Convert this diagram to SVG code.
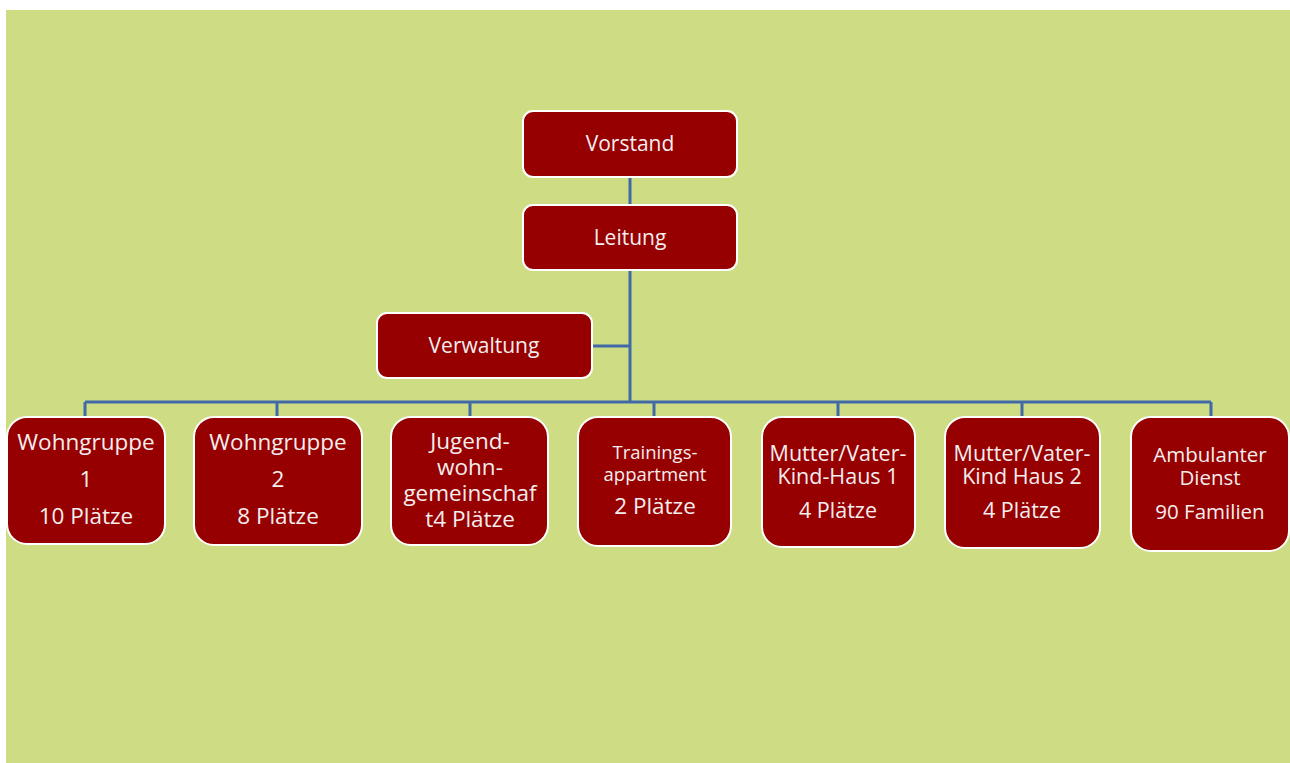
<svg xmlns="http://www.w3.org/2000/svg" width="1290" height="763" viewBox="0 0 1290 763">
<style>
.box{fill:#960000;stroke:#ffffff;stroke-width:2}
.t{font-family:"Open Sans","Liberation Sans",sans-serif;fill:#f4eeee;text-anchor:middle;font-size:21px}
.l{font-size:22.5px}
.m{font-size:21.5px}
.a{font-size:20.5px}
.s{font-size:18.5px}
.c{stroke:#4169a8;stroke-width:3;fill:none}
</style>
<rect x="0" y="0" width="1290" height="763" fill="#ffffff"/>
<rect x="6" y="10" width="1284" height="753" fill="#cedc84"/>
<g id="connectors">
<path class="c" d="M630 177V402M592 346H630M85 402H1211M85 402V418M277 402V418M470 402V418M654 402V418M838 402V418M1022 402V418M1211 402V418"/>
</g>
<g id="vorstand"><rect class="box" x="523" y="111" width="214" height="66" rx="10"/><text class="t" x="630" y="151">Vorstand</text></g>
<g id="leitung"><rect class="box" x="523" y="205" width="214" height="65" rx="10"/><text class="t" x="630" y="245">Leitung</text></g>
<g id="verwaltung"><rect class="box" x="377" y="313" width="215" height="65" rx="10"/><text class="t" x="484" y="353">Verwaltung</text></g>
<g id="wg1"><rect class="box" x="7" y="417" width="158" height="127" rx="20"/><text class="t l" x="86" y="450">Wohngruppe</text><text class="t l" x="86" y="487">1</text><text class="t l" x="86" y="524">10 Plätze</text></g>
<g id="wg2"><rect class="box" x="194" y="417" width="168" height="128" rx="20"/><text class="t l" x="278" y="450">Wohngruppe</text><text class="t l" x="278" y="487">2</text><text class="t l" x="278" y="524">8 Plätze</text></g>
<g id="jwg"><rect class="box" x="391" y="417" width="157" height="128" rx="20"/><text class="t l" x="470" y="449">Jugend-</text><text class="t l" x="470" y="475">wohn-</text><text class="t l" x="470" y="501">gemeinschaf</text><text class="t l" x="470" y="527">t4 Plätze</text></g>
<g id="training"><rect class="box" x="578" y="417" width="153" height="129" rx="20"/><text class="t s" x="655" y="459">Trainings-</text><text class="t s" x="655" y="481">appartment</text><text class="t l" x="655" y="514">2 Plätze</text></g>
<g id="mvk1"><rect class="box" x="762" y="417" width="153" height="130" rx="20"/><text class="t m" x="838" y="461">Mutter/Vater-</text><text class="t m" x="838" y="484">Kind-Haus 1</text><text class="t m" x="838" y="518">4 Plätze</text></g>
<g id="mvk2"><rect class="box" x="945" y="417" width="155" height="131" rx="20"/><text class="t m" x="1022" y="461">Mutter/Vater-</text><text class="t m" x="1022" y="484">Kind Haus 2</text><text class="t m" x="1022" y="518">4 Plätze</text></g>
<g id="amb"><rect class="box" x="1131" y="417" width="158" height="134" rx="20"/><text class="t a" x="1210" y="462">Ambulanter</text><text class="t a" x="1210" y="485">Dienst</text><text class="t a" x="1210" y="519">90 Familien</text></g>
</svg>
